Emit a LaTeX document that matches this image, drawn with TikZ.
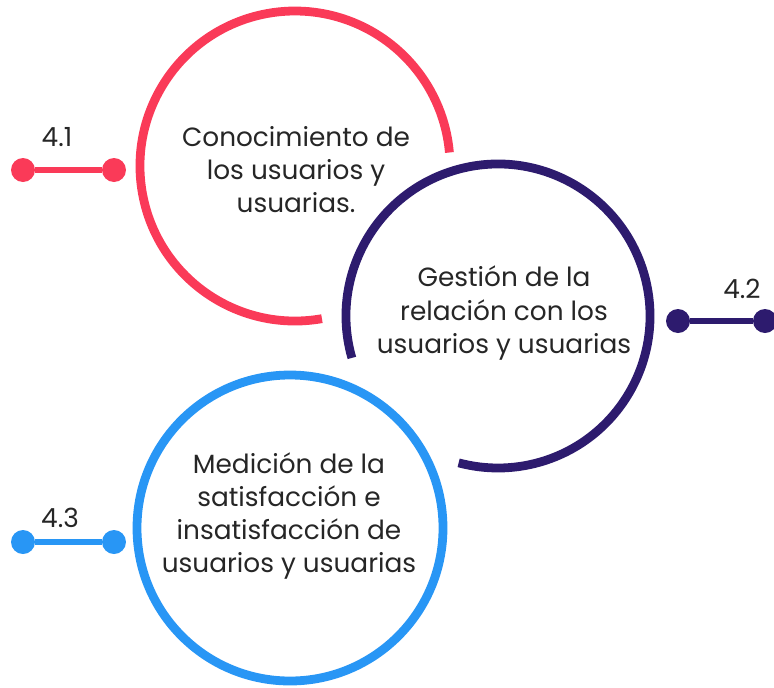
\documentclass[tikz,border=0pt]{standalone}
\usepackage{fontspec}
\setmainfont{Poppins}
\usepackage{tikz}
\definecolor{rouge}{RGB}{250,58,88}
\definecolor{marine}{RGB}{45,27,110}
\definecolor{ciel}{RGB}{40,150,245}
\tikzset{
  ring/.style={line width=5pt},
  dot/.style={circle,fill,inner sep=0pt,minimum size=0.48cm},
  link/.style={line width=3.6pt},
  txt/.style={align=center,font=\fontsize{15}{18.8}\selectfont,text=black!85},
  num/.style={font=\fontsize{15}{16}\selectfont,text=black!85}
}
\begin{document}
\begin{tikzpicture}[x=0.02cm,y=-0.02cm]
\useasboundingbox (0,0) rectangle (774,687);
% anneaux
\draw [ring,rouge] (295,166) ++(80:155) arc (80:355:155);
\draw [ring,marine] (498,316) ++(164:152) arc (164:465:152);
\draw [ring,ciel] (290,528) circle [radius=153];
% textes
\node [txt] (t1) at (296,170) {Conocimiento de\\los usuarios y\\usuarias.};
\node [txt] (t2) at (504,313) {Gestión de la\\relación con los\\usuarios y usuarias};
\node [txt] (t3) at (289,516) {Medición de la\\satisfacción e\\insatisfacción de\\usuarios y usuarias};
% reperes
\node [dot,rouge] (a1) at (23,170) {};
\node [dot,rouge] (b1) at (114,170) {};
\draw [link,rouge] (a1) -- (b1);
\node [num] (n1) at (57,137) {4.1};
\node [dot,marine] (a2) at (678,321) {};
\node [dot,marine] (b2) at (765,321) {};
\draw [link,marine] (a2) -- (b2);
\node [num] (n2) at (742,289) {4.2};
\node [dot,ciel] (a3) at (23,542) {};
\node [dot,ciel] (b3) at (114,542) {};
\draw [link,ciel] (a3) -- (b3);
\node [num] (n3) at (60,518) {4.3};
\end{tikzpicture}
\end{document}
